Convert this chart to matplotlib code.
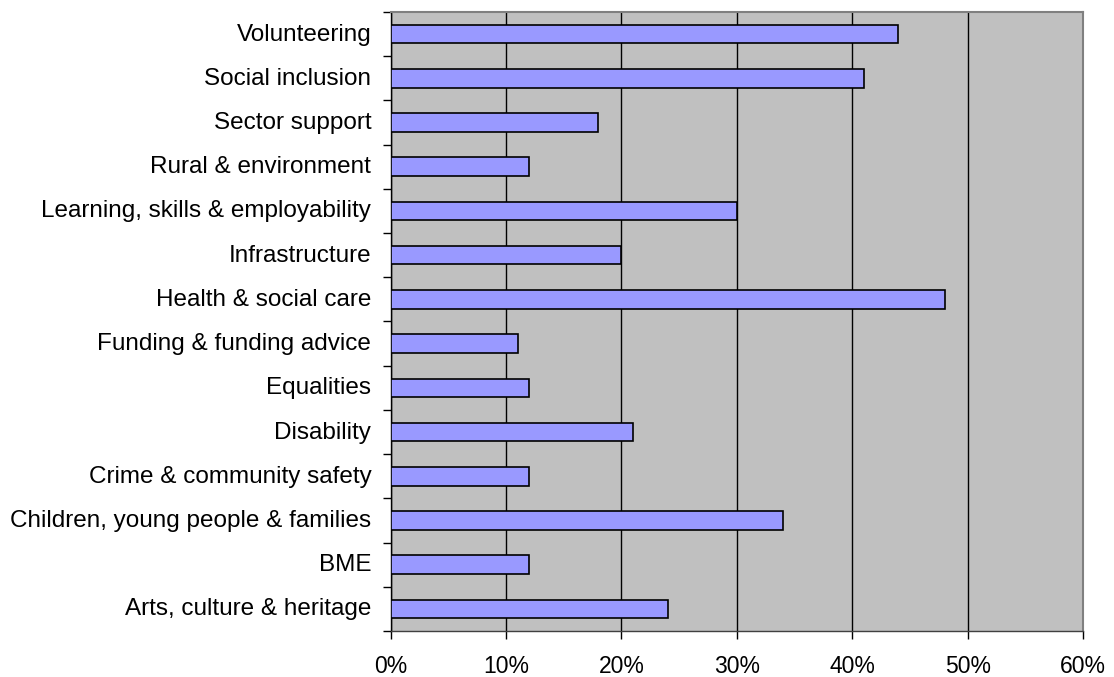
import matplotlib
matplotlib.use("Agg")
import matplotlib.pyplot as plt
from matplotlib.ticker import FuncFormatter, FixedLocator
from matplotlib.transforms import ScaledTranslation

categories = [
    "Arts, culture & heritage",
    "BME",
    "Children, young people & families",
    "Crime & community safety",
    "Disability",
    "Equalities",
    "Funding & funding advice",
    "Health & social care",
    "Infrastructure",
    "Learning, skills & employability",
    "Rural & environment",
    "Sector support",
    "Social inclusion",
    "Volunteering",
]
values = [24, 12, 34, 12, 21, 12, 11, 48, 20, 30, 12, 18, 41, 44]
x_ticks = [0, 10, 20, 30, 40, 50, 60]

plt.rcParams["font.family"] = ["Liberation Sans", "DejaVu Sans"]

fig = plt.figure(figsize=(11.14, 6.77), dpi=100)
ax = fig.add_axes([390.7 / 1114, 1 - 631 / 677, (1083 - 390.7) / 1114, (631 - 12) / 677])

ax.set_facecolor("#C0C0C0")
ypos = list(range(len(categories)))
ax.barh(ypos, values, height=0.42, color="#9999FF", edgecolor="black",
        linewidth=1.2, zorder=3)

ax.set_xlim(0, 60)
ax.set_ylim(-0.5, len(categories) - 0.5)
ax.set_xticks(x_ticks)
ax.xaxis.set_major_formatter(FuncFormatter(lambda v, p: f"{int(v)}%"))
ax.grid(axis="x", color="black", linewidth=1.0, zorder=1)

ax.set_yticks(ypos)
ax.set_yticklabels(categories)
ax.yaxis.set_minor_locator(FixedLocator([i - 0.5 for i in range(len(categories) + 1)]))
ax.tick_params(axis="y", which="major", length=0, pad=14, labelsize=17.5)
ax.tick_params(axis="y", which="minor", length=6, width=1.0, color="black")
ax.tick_params(axis="x", length=6, width=1.0, color="black", labelsize=16.5, pad=11)

# nudge category labels slightly upward
shift = ScaledTranslation(0, 2 / 100, fig.dpi_scale_trans)
for lbl in ax.get_yticklabels():
    lbl.set_transform(lbl.get_transform() + shift)

for side in ("top", "right"):
    ax.spines[side].set_color("#808080")
    ax.spines[side].set_linewidth(1.5)
ax.spines["left"].set_color("black")
ax.spines["left"].set_linewidth(1.0)
ax.spines["bottom"].set_color("#404040")
ax.spines["bottom"].set_linewidth(1.0)

fig.savefig("out.png", dpi=100, facecolor="white")
